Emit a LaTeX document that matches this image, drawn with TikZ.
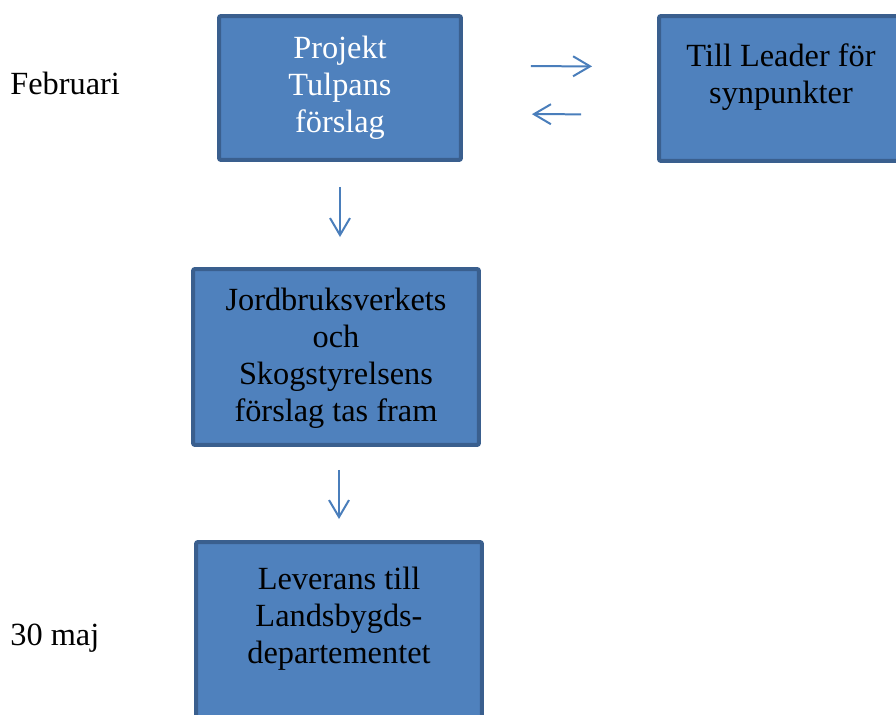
\documentclass[tikz,border=0pt]{standalone}
\usepackage{fontspec}
\setmainfont{Liberation Serif}
\usepackage{xcolor}
\usetikzlibrary{arrows.meta}
\definecolor{boxfill}{HTML}{4F81BD}
\definecolor{boxline}{HTML}{3A5F8E}
\definecolor{pilblue}{HTML}{4A7EBB}

\begin{document}
\begin{tikzpicture}[x=0.02cm,y=-0.02cm,
  box/.style={draw=boxline, fill=boxfill, line width=0.08cm, rounded corners=0.04cm, inner sep=0pt},
  boxtext/.style={align=center, inner sep=0pt, font=\fontsize{18.4}{21.06}\selectfont},
  pil/.style={draw=pilblue, line width=0.04cm, -{Straight Barb[length=0.34cm,width=0.4cm]}}]
\useasboundingbox (0,0) rectangle (896,715);
\clip (0,0) rectangle (896,715);

% ========= Vänster: månader =========
\node[boxtext, anchor=west] (feb) at (10,83) {Februari};
\node[boxtext, anchor=west] (maj) at (10,638) {30 maj};

% ========= Överst: förslag och Leader =========
\node[box, minimum width=4.84cm, minimum height=2.88cm] (proj) at (340,88) {};
\node[boxtext, text=white] (projtxt) at (340,87.5) {Projekt\\Tulpans\\förslag};
\node[box, minimum width=4.88cm, minimum height=2.90cm] (leader) at (781,88.5) {};
\node[boxtext] (leadertxt) at (781,77.5) {Till Leader för\\synpunkter};
\draw[pil, shorten <=1.36cm, shorten >=1.3cm] ([yshift=0.44cm]proj.east) -- ([yshift=0.44cm]leader.west);
\draw[pil, shorten <=1.52cm, shorten >=1.38cm] ([yshift=-0.52cm]leader.west) -- ([yshift=-0.52cm]proj.east);

% ========= Mitten: Jordbruksverket =========
\node[box, minimum width=5.72cm, minimum height=3.52cm] (jord) at (336,357) {};
\node[boxtext] (jordtxt) at (336,358.5) {Jordbruksverkets\\och\\Skogstyrelsens\\förslag tas fram};
\draw[pil, shorten <=0.5cm, shorten >=0.6cm] (proj.south) -- (proj.south |- jord.north);

% ========= Nederst: leverans =========
\node[box, minimum width=5.72cm, minimum height=3.92cm] (lev) at (339,640) {};
\node[boxtext] (levtxt) at (339,618.5) {Leverans till\\Landsbygds-\\departementet};
\draw[pil, shorten <=0.46cm, shorten >=0.42cm] (jord.south -| lev.north) -- (lev.north);
\end{tikzpicture}
\end{document}
